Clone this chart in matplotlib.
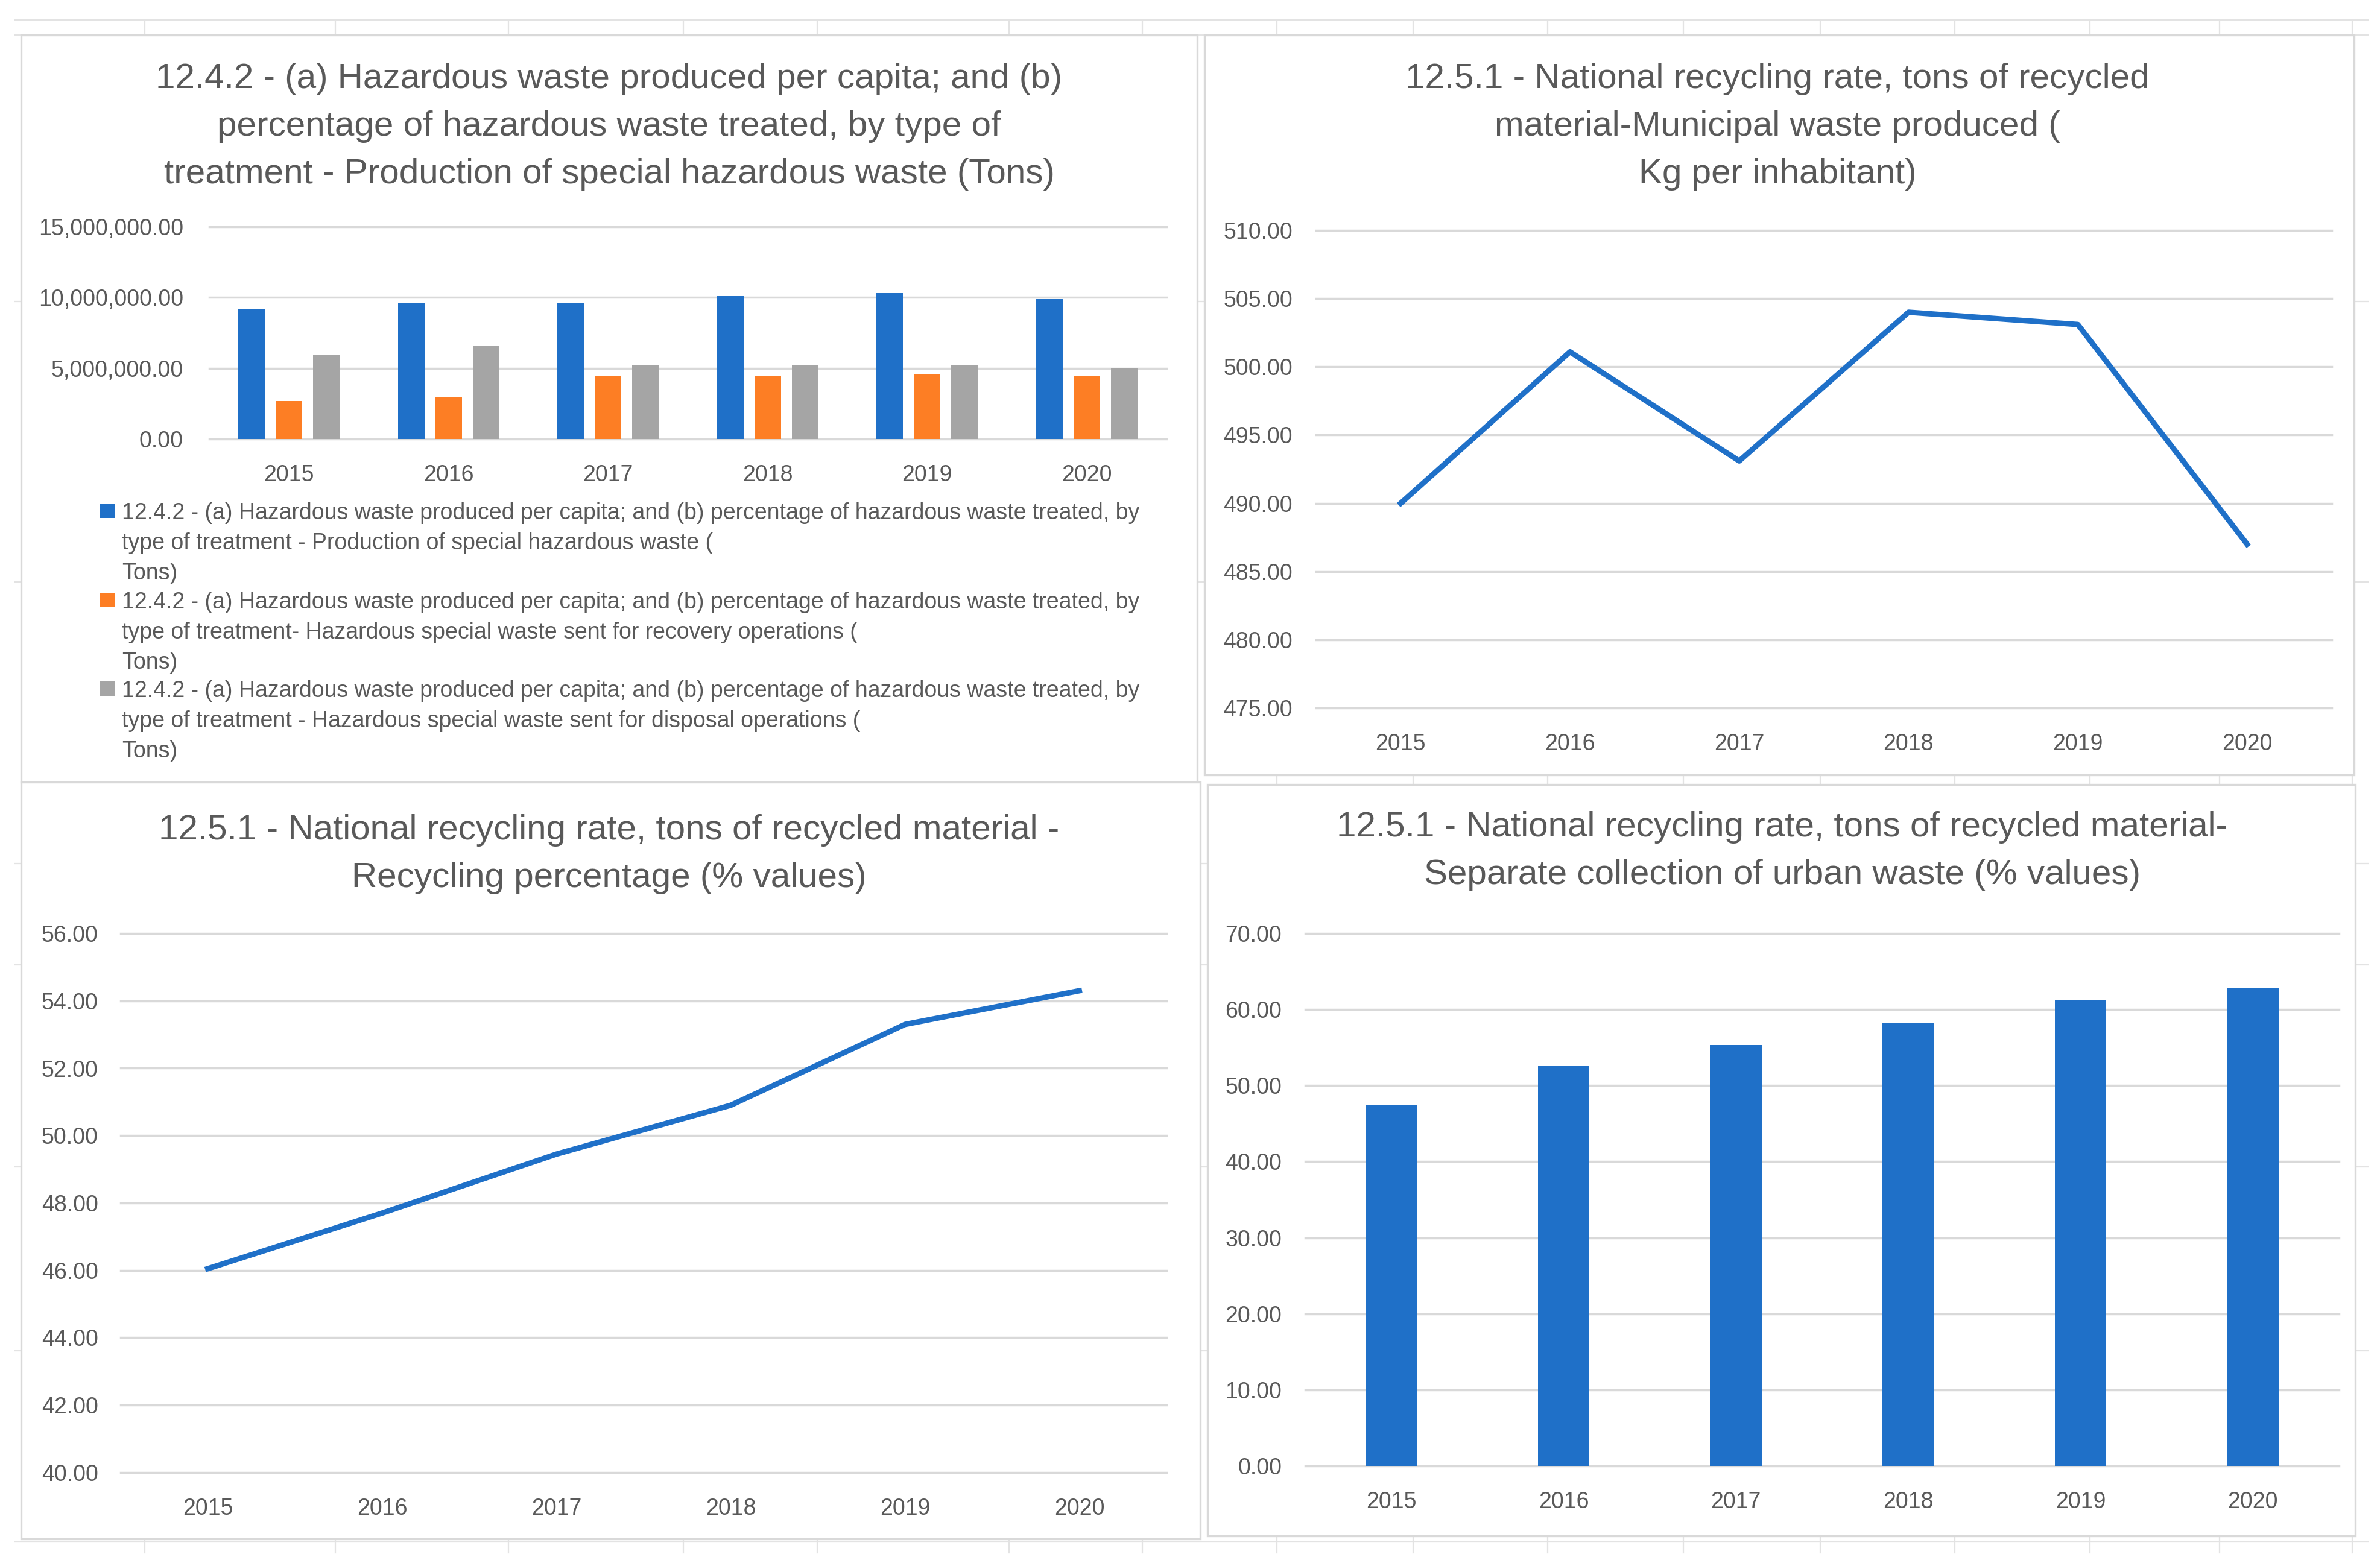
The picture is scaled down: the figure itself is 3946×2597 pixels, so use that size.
#!/usr/bin/env python3
"""
Four Excel-style SDG 12 waste charts (hazardous waste, municipal waste per inhabitant,
recycling percentage, separate collection) laid out 2x2 on a spreadsheet background.
Output: out.png
"""
import matplotlib
matplotlib.use("Agg")
import matplotlib.pyplot as plt
from matplotlib.lines import Line2D
from matplotlib.patches import Rectangle
from matplotlib.ticker import FuncFormatter, MultipleLocator

plt.rcParams["font.family"] = ["Liberation Sans Narrow", "Liberation Sans", "DejaVu Sans"]

YEARS = ["2015", "2016", "2017", "2018", "2019", "2020"]

# 12.4.2 hazardous waste (tons)
HAZ_PRODUCED = [9.22e6, 9.65e6, 9.65e6, 10.09e6, 10.30e6, 9.90e6]
HAZ_RECOVERY = [2.67e6, 2.92e6, 4.42e6, 4.42e6, 4.61e6, 4.42e6]
HAZ_DISPOSAL = [5.98e6, 6.60e6, 5.26e6, 5.26e6, 5.26e6, 5.04e6]

# 12.5.1 national recycling rate
MUNICIPAL_KG = [490.0, 501.1, 493.1, 504.0, 503.1, 487.0]
RECYCLING_PCT = [46.05, 47.7, 49.45, 50.9, 53.3, 54.3]
SEPARATE_PCT = [47.4, 52.6, 55.3, 58.2, 61.3, 62.9]

HAZ_PREFIX = ("12.4.2 - (a) Hazardous waste produced per capita; and (b) percentage of "
              "hazardous waste treated, by\n")
HAZ_LABELS = [
    HAZ_PREFIX + "type of treatment - Production of special hazardous waste (\nTons)",
    HAZ_PREFIX + "type of treatment- Hazardous special waste sent for recovery operations (\nTons)",
    HAZ_PREFIX + "type of treatment - Hazardous special waste sent for disposal operations (\nTons)",
]

TITLES = [
    "12.4.2 - (a) Hazardous waste produced per capita; and (b)\n"
    "percentage of hazardous waste treated, by type of\n"
    "treatment - Production of special hazardous waste (Tons)",
    "12.5.1 - National recycling rate, tons of recycled\n"
    "material-Municipal waste produced (\n"
    "Kg per inhabitant)",
    "12.5.1 - National recycling rate, tons of recycled material -\n"
    "Recycling percentage (% values)",
    "12.5.1 - National recycling rate, tons of recycled material-\n"
    "Separate collection of urban waste (% values)",
]

BLUE = "#1f70c8"
ORANGE = "#fd7e24"
GRAY = "#a5a5a5"
TEXT = "#595959"
GRID = "#d9d9d9"
SHEET = "#e3e3e3"

W, H = 3946, 2597


def rect(left, top, right, bottom):
    """pixel box (top-left origin) -> figure-fraction [l, b, w, h]"""
    return [left / W, 1 - bottom / H, (right - left) / W, (bottom - top) / H]


def style_axis(ax, lo, hi, step, fmt, ypad):
    ax.set_facecolor("none")
    ax.set_ylim(lo, hi)
    ax.set_xlim(-0.5, len(YEARS) - 0.5)
    ax.yaxis.set_major_locator(MultipleLocator(step))
    ax.yaxis.set_major_formatter(FuncFormatter(lambda v, _: fmt.format(v)))
    ax.set_xticks(range(len(YEARS)), YEARS)
    for s in ax.spines.values():
        s.set_visible(False)
    ax.grid(axis="y", color=GRID, lw=2.5)
    ax.set_axisbelow(True)
    ax.tick_params(length=0, labelsize=27, labelcolor=TEXT)
    ax.tick_params(axis="y", pad=ypad)
    ax.tick_params(axis="x", pad=30)
    for gl in ax.get_ygridlines():
        gl.set_clip_on(False)


fig = plt.figure(figsize=(W / 100, H / 100), dpi=100)

# spreadsheet cells behind the charts
for x in [240, 556, 843, 1133, 1355, 1673, 1894, 2117, 2343, 2566, 2791,
          3018, 3241, 3465, 3680, 3900]:
    fig.add_artist(Line2D([x / W] * 2, [1 - 33 / H, 1 - 2575 / H],
                          transform=fig.transFigure, color=SHEET, lw=1.6, zorder=-3))
for y in [33, 58, 500, 965, 1432, 1600, 1935, 2240, 2557]:
    fig.add_artist(Line2D([25 / W, 3926 / W], [1 - y / H] * 2,
                          transform=fig.transFigure, color=SHEET, lw=1.6, zorder=-3))

# chart frames
for left, top, right, bottom in [(35, 58, 1985, 1297), (1997, 58, 3903, 1285),
                                 (35, 1297, 1990, 2552), (2002, 1301, 3905, 2547)]:
    l, b, w, h = rect(left, top, right, bottom)
    fig.add_artist(Rectangle((l, b), w, h, transform=fig.transFigure, fc="white",
                             ec=GRID, lw=2.4, zorder=-1))

# titles
for text, cx, top in zip(TITLES, [1010, 2947, 1010, 2955], [104, 104, 1350, 1345]):
    fig.text(cx / W, 1 - top / H, text, ha="center", va="top", fontsize=42,
             color=TEXT, linespacing=1.59)

x = list(range(len(YEARS)))

# top-left: grouped bars
ax1 = fig.add_axes(rect(347, 376, 1934, 728))
bw, off = 0.167, 0.234
for vals, color, shift in [(HAZ_PRODUCED, BLUE, -off), (HAZ_RECOVERY, ORANGE, 0.0),
                           (HAZ_DISPOSAL, GRAY, off)]:
    ax1.bar([i + shift for i in x], vals, width=bw, color=color)
style_axis(ax1, 0, 15e6, 5e6, "{:,.2f}", 31)

# manual legend (square on the first line of each multi-line label)
for label, color, centre in zip(HAZ_LABELS, [BLUE, ORANGE, GRAY], [847, 995, 1142]):
    fig.add_artist(Rectangle((166 / W, 1 - (centre + 12) / H), 24 / W, 24 / H,
                             transform=fig.transFigure, fc=color, ec="none"))
    fig.text(202 / W, 1 - (centre - 14) / H, label, ha="left", va="top", fontsize=27,
             color=TEXT, linespacing=1.5)

# top-right: municipal waste line
ax2 = fig.add_axes(rect(2182, 382, 3866, 1174))
ax2.plot(x, MUNICIPAL_KG, color=BLUE, lw=6.5, solid_joinstyle="round")
style_axis(ax2, 475, 510, 5, "{:.2f}", 28)

# bottom-left: recycling percentage line
ax3 = fig.add_axes(rect(200, 1548, 1934, 2442))
ax3.plot(x, RECYCLING_PCT, color=BLUE, lw=6.5, solid_joinstyle="round")
style_axis(ax3, 40, 56, 2, "{:.2f}", 27)

# bottom-right: separate collection bars
ax4 = fig.add_axes(rect(2164, 1548, 3878, 2431))
ax4.bar(x, SEPARATE_PCT, width=0.3, color=BLUE)
style_axis(ax4, 0, 70, 10, "{:.2f}", 28)

fig.savefig("out.png", dpi=100)
